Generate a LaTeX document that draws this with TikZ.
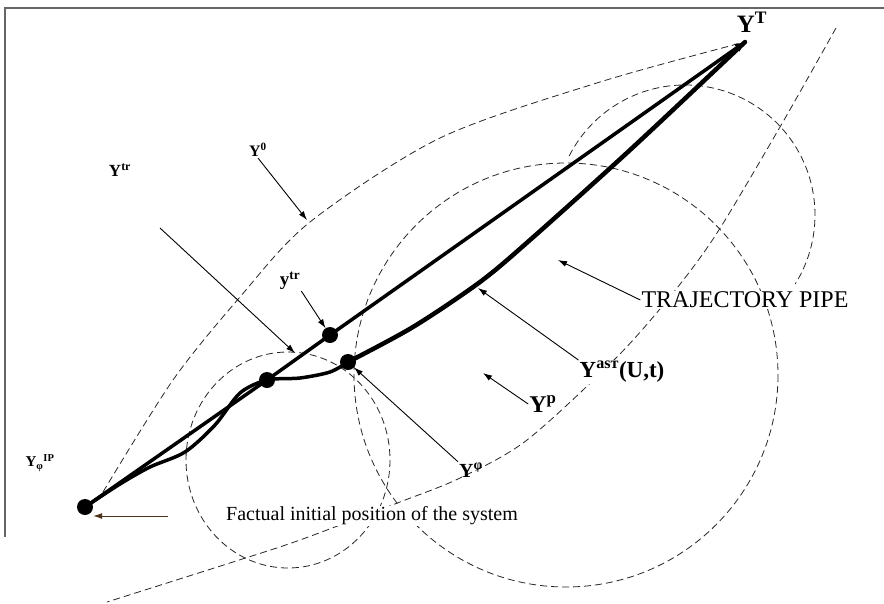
\documentclass[tikz,border=0pt]{standalone}
\usepackage{fontspec}
\setmainfont{Liberation Serif}
\usepackage{tikz}
\usetikzlibrary{arrows.meta}
\newcommand\fsz[1]{\fontsize{#1}{#1}\selectfont}

\begin{document}
\begin{tikzpicture}[x=1pt,y=-1pt,
  pipe/.style={dash pattern=on 7pt off 4pt,line width=0.8pt,black!85},
  traj/.style={line width=3.5pt,line cap=round,line join=round},
  pointer/.style={line width=0.9pt,-{Latex[length=9pt,width=6pt]}},
  dot/.style={circle,fill,inner sep=0pt,minimum size=16pt},
  lbl/.style={inner sep=1pt}]
  \useasboundingbox (0,0) rectangle (884,603);
  \draw[line width=1.5pt,black!60] (5,537) -- (5,8) -- (884,8);
  % dashed bounds
  \draw[pipe] plot[smooth] coordinates {(103,492) (173,380) (240,297) (310,222) (440,138) (600,82) (745,42)};
  \draw[pipe] plot[smooth] coordinates {(836,28) (780,127) (717,233) (673,293) (617,357) (527,440) (460,478) (400,502) (300,540) (233,562) (107,602)};
  \draw[pipe] (566,375) circle[radius=212];
  \draw[pipe] (288,460) ellipse[x radius=102,y radius=108];
  \draw[pipe] (685,215) ++(-153:130) arc[start angle=-153,end angle=32,radius=130];
  % points
  \node[dot] (s) at (85,507) {};
  \node[dot] (d1) at (267,380) {};
  \node[dot] (d2) at (330,335) {};
  \node[dot] (d3) at (348,362) {};
  \coordinate (yt) at (745,42);
  % trajectories
  \draw[traj,-{Latex[length=10pt,width=10pt]}] (s.center) -- (d1.center) -- (d2.center) -- (yt);
  \draw[traj] plot[smooth] coordinates {(85,507) (120,484) (150,467) (185,452) (215,425) (240,393) (267,380) (300,378) (330,372) (348,362)};
  \draw[traj,line width=4.5pt] plot[smooth] coordinates {(348,362) (413,327) (480,282) (530,240) (630,150) (745,42)};
  % labels
  \node[lbl,font=\bfseries\fsz{25}] (ytop) at (752,22) {Y\textsuperscript{T}};
  \node[lbl,font=\bfseries\fsz{16}] (yzero) at (258,150) {Y\textsuperscript{0}};
  \node[lbl,font=\bfseries\fsz{17}] (ytrl) at (120,170) {Y\textsuperscript{tr}};
  \node[lbl,font=\bfseries\fsz{19}] (ytrs) at (290,281) {y\textsuperscript{tr}};
  \node[lbl,fill=white,font=\fsz{24}] (tpipe) at (745,300) {TRAJECTORY PIPE};
  \node[lbl,fill=white,font=\bfseries\fsz{23}] (yast) at (622,372) {Y\textsuperscript{asт}(U,t)};
  \node[lbl,font=\bfseries\fsz{24}] (yp) at (543,404) {Y\textsuperscript{p}};
  \node[lbl,font=\bfseries\fsz{20}] (yphi) at (471,470) {Y\textsuperscript{φ}};
  \node[lbl,font=\bfseries\fsz{15}] (yip) at (40,463) {Y\textsubscript{φ}\textsuperscript{IP}};
  \node[lbl,fill=white,font=\fsz{20}] (fact) at (372,516) {Factual initial position of the system};
  % pointers
  \coordinate (c0) at (307,220);
  \coordinate (ctr) at (160,228);
  \coordinate (ctrend) at (295,353);
  \coordinate (cast) at (478,288);
  \coordinate (cp) at (483,373);
  \coordinate (cpipe) at (558,260);
  \coordinate (cf) at (168,516);
  \draw[pointer] (yzero.south) -- (c0);
  \draw[pointer] (ctr) -- (ctrend);
  \draw[pointer] (ytrs.south east) -- (d2);
  \draw[pointer] (yast.north west) -- (cast);
  \draw[pointer] (yp.west) -- (cp);
  \draw[pointer] (yphi.north west) -- (d3);
  \draw[pointer] (tpipe.west) -- (cpipe);
  \draw[pointer,black!60!brown] (cf) -- (cf -| s.east);
\end{tikzpicture}
\end{document}
